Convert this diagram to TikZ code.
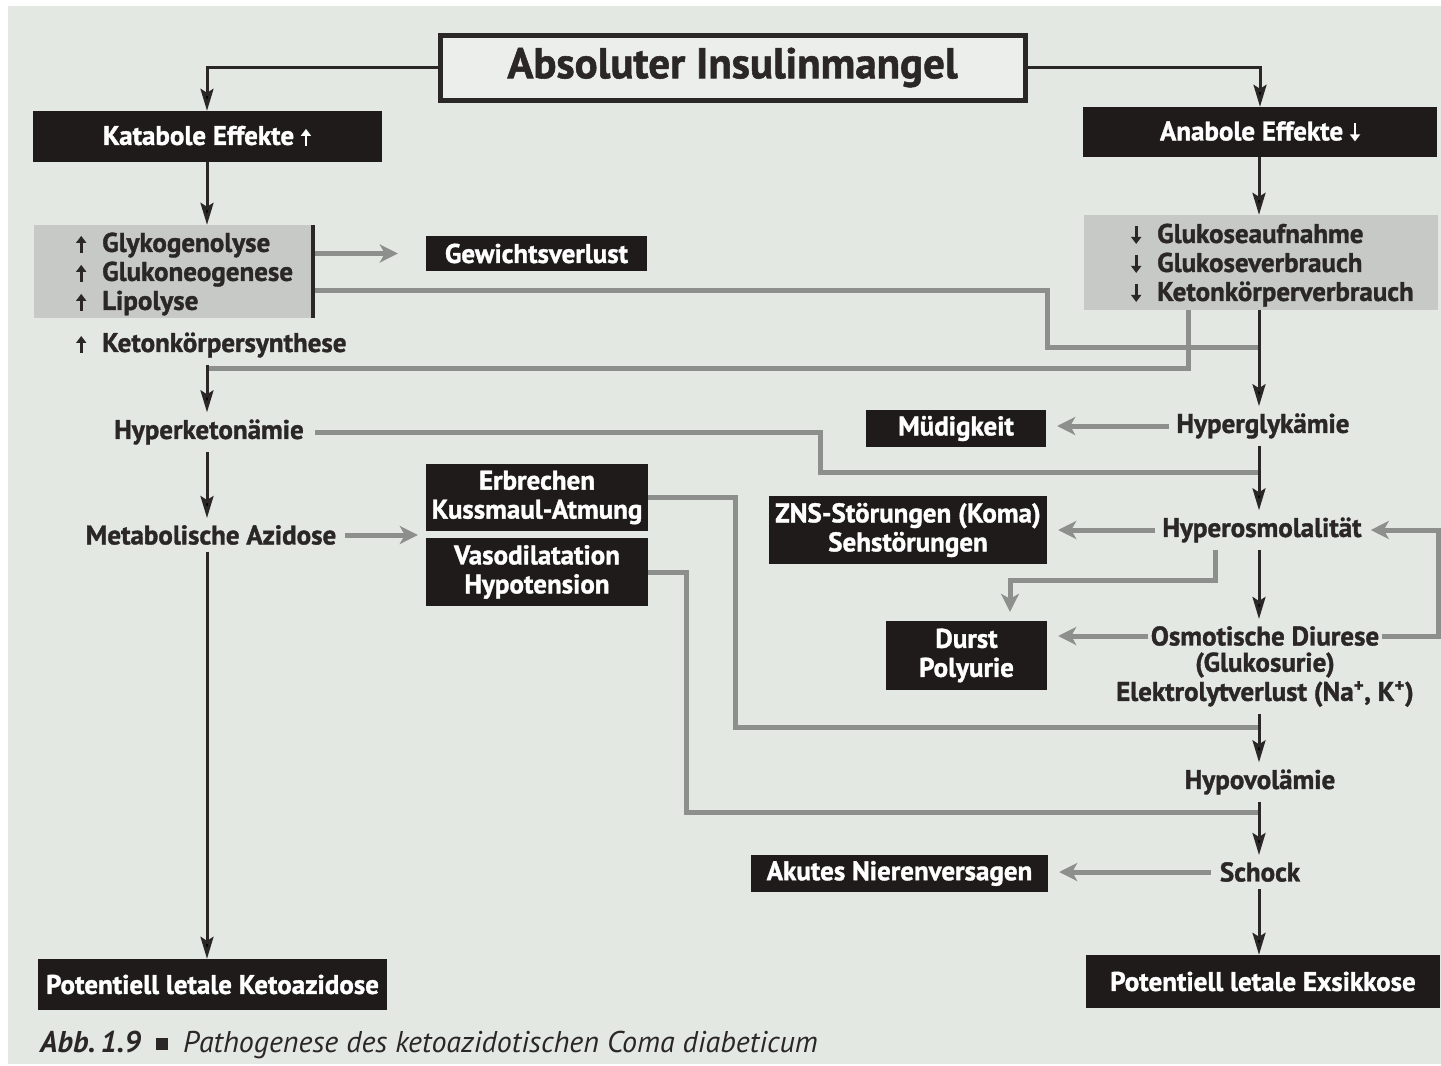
\documentclass[tikz,border=0pt]{standalone}
\usepackage{fontspec}
\setmainfont{PT Sans}[BoldFeatures={FakeBold=1.3}]
\newfontfamily\symf{DejaVu Sans}
\usetikzlibrary{arrows.meta,calc}
\definecolor{bg}{HTML}{E3E8E3}
\definecolor{insf}{HTML}{EBEEEB}
\definecolor{boxc}{HTML}{1F1B1B}
\definecolor{gboxc}{HTML}{C6C9C6}
\definecolor{dark}{HTML}{2B2727}
\definecolor{grayl}{HTML}{8C8F8C}
\newcommand{\myup}[1][dark]{\tikz[baseline=0pt]\draw[#1, line width=2.6pt, -{Triangle[length=7pt,width=10pt]}] (0pt,-1pt) -- (0pt,16pt);}
\newcommand{\mydn}[1][dark]{\tikz[baseline=0pt]\draw[#1, line width=2.6pt, -{Triangle[length=7pt,width=10pt]}] (0pt,17pt) -- (0pt,-1pt);}
\newcommand{\bul}[1]{\makebox[26pt][l]{#1}}
\begin{document}
\begin{tikzpicture}[x=1pt,y=-1pt,
  every node/.style={font=\bfseries\fontsize{27}{29}\selectfont},
  blk/.style={fill=boxc, text=white, inner sep=0pt, align=center},
  gbox/.style={fill=gboxc, inner sep=0pt},
  txt/.style={text=dark, inner xsep=3pt, inner ysep=7pt, align=center},
  frame/.style={draw=dark, line width=5pt, fill=insf, text=dark, inner sep=0pt,
     font=\bfseries\fontsize{43}{48}\selectfont},
  dkl/.style={draw=dark, line width=3pt},
  dk/.style={dkl, -{Stealth[length=22pt,width=13pt,inset=4pt]}},
  gr/.style={draw=grayl, line width=5pt},
  gra/.style={gr, -{Stealth[length=18pt,width=18pt,inset=5pt]}}
]
\fill[white] (0,0) rectangle (1441,1066);
\fill[bg] (8,6) rectangle (1441,1064);
\useasboundingbox (0,0) rectangle (1441,1066);

\coordinate (lc) at (207,0);
\coordinate (rc) at (1259,0);

% boxes
\node[frame, minimum width=585pt, minimum height=65pt] (ins) at (732.5,67.5) {Absoluter Insulinmangel};
\node[blk, minimum width=349pt, minimum height=51pt] (kat) at (207,136.5) {Katabole Effekte \myup[white]};
\node[blk, minimum width=354pt, minimum height=50pt] (ana) at (1260,132) {Anabole Effekte \mydn[white]};
\node[gbox, minimum width=279pt, minimum height=93pt] (lgray) at (173.5,271.5) {};
\node[anchor=west, align=left, inner sep=0pt, text=dark] (lgt) at (76,274) {\bul{\myup}Glykogenolyse\\\bul{\myup}Glukoneogenese\\\bul{\myup}Lipolyse};
\node[gbox, minimum width=354pt, minimum height=95pt] (rgray) at (1261,262.5) {};
\node[anchor=west, align=left, inner sep=0pt, text=dark] (rgt) at (1131,265) {\bul{\mydn}Glukoseaufnahme\\\bul{\mydn}Glukoseverbrauch\\\bul{\mydn}Ketonkörperverbrauch};
\node[txt, anchor=west, inner xsep=0pt] (kps) at (76,345) {\bul{\myup}Ketonkörpersynthese};
\node[blk, minimum width=221pt, minimum height=35pt] (gew) at (536.5,253.5) {Gewichtsverlust};
\node[blk, minimum width=222pt, minimum height=67pt] (erb) at (537,497.5) {Erbrechen\\Kussmaul-Atmung};
\node[blk, minimum width=222pt, minimum height=68pt] (vaso) at (537,572) {Vasodilatation\\Hypotension};
\node[blk, minimum width=180pt, minimum height=37pt] (mued) at (956,428.5) {Müdigkeit};
\node[blk, minimum width=278pt, minimum height=68pt] (zns) at (908,530) {ZNS-Störungen (Koma)\\Sehstörungen};
\node[blk, minimum width=161pt, minimum height=69pt] (durst) at (966.5,655.5) {Durst\\Polyurie};
\node[blk, minimum width=297pt, minimum height=37pt] (akut) at (899.5,873.5) {Akutes Nierenversagen};
\node[blk, minimum width=349pt, minimum height=51pt] (keto) at (212.5,984.5) {Potentiell letale Ketoazidose};
\node[blk, minimum width=354pt, minimum height=53pt] (exs) at (1263,981.5) {Potentiell letale Exsikkose};

% text nodes
\node[txt] (hk) at (209,432) {Hyperketonämie};
\node[txt] (ma) at (211,535) {Metabolische Azidose};
\node[txt] (hg) at (1263,426) {Hyperglykämie};
\node[txt] (ho) at (1262,530) {Hyperosmolalität};
\node[txt] (od1) at (1265,636) {Osmotische Diurese};
\node[txt, inner ysep=0pt] (od2) at (1265,665) {(Glukosurie)};
\node[txt] (od3) at (1265,694) {Elektrolytverlust (Na\textsuperscript{+}, K\textsuperscript{+})};
\node[txt] (hv) at (1260,782) {Hypovolämie};
\node[txt] (sc) at (1260,872) {Schock};

% caption
\node[anchor=base west, inner sep=0pt, text=dark, font=\fontsize{30}{32}\selectfont] (cap) at (40,1052)
  {\bfseries\itshape Abb.\,1.9\ \ \raisebox{2pt}{\tikz\fill[dark] (0pt,0pt) rectangle (12pt,12pt);}\ \ \mdseries\itshape Pathogenese des ketoazidotischen Coma diabeticum};

% gray connectors
\coordinate (b1) at (1047,290);
\coordinate (j1) at (1259,347);
\coordinate (b2) at (1188,0);
\coordinate (j2) at (207,368);
\coordinate (b3) at (820,432);
\coordinate (j3) at (1259,472);
\coordinate (b4) at (735,727);
\coordinate (j4) at (1259,727);
\coordinate (b5) at (686,812);
\coordinate (j5) at (1259,812);
\coordinate (b6) at (1215,580);
\coordinate (b7) at (1010,580);
\coordinate (b8) at (1438,0);

\draw[gra, shorten >=28pt] (lgray.east |- gew.west) -- (gew.west);
\draw[gr] (lgray.east |- b1) -- (b1) |- (j1);
\draw[gr] (rgray.south -| b2) |- (j2);
\draw[gr, shorten <=8pt] (hk.east) -- (b3) |- (j3);
\draw[gra, shorten <=6pt, shorten >=8pt] (ma.east) -- (erb.west |- ma.east);
\draw[gr] (erb.east) -| (b4) -- (j4);
\draw[gr] (vaso.east) -| (b5) -- (j5);
\draw[gra, shorten <=4pt, shorten >=11pt] (hg.west) -- (hg.west -| mued.east);
\draw[gra, shorten <=4pt, shorten >=11pt] (ho.west) -- (ho.west -| zns.east);
\draw[gra, shorten >=11pt] (od1.west) -- (od1.west -| durst.east);
\draw[gra, shorten >=6pt] (od1.east) -- (od1.east -| b8) |- (ho.east);
\draw[gra, shorten >=9pt] (ho.south -| b6) -- (b6) -- (b7) -- (b7 |- durst.north);
\draw[gra, shorten <=6pt, shorten >=11pt] (sc.west) -- (sc.west -| akut.east);

% dark connectors
\draw[dkl, line width=4pt] (lgray.north east) -- (lgray.south east);
\draw[dk] (ins.west) -| (kat.north);
\draw[dk] (ins.east) -| (ana.north);
\draw[dk] (kat.south) -- (kat.south |- lgray.north);
\draw[dk] (ana.south -| rc) -- (rgray.north -| rc);
\draw[dk] (kps.south -| lc) -- (hk.north -| lc);
\draw[dk] (hk.south -| lc) -- (ma.north -| lc);
\draw[dk] (ma.south -| lc) -- (keto.north -| lc);
\draw[dk] (rgray.south -| rc) -- (hg.north -| rc);
\draw[dk] (hg.south -| rc) -- (ho.north -| rc);
\draw[dk] (ho.south -| rc) -- (od1.north -| rc);
\draw[dk] (od3.south -| rc) -- (hv.north -| rc);
\draw[dk] (hv.south -| rc) -- (sc.north -| rc);
\draw[dk] (sc.south -| rc) -- (exs.north -| rc);
\end{tikzpicture}
\end{document}
